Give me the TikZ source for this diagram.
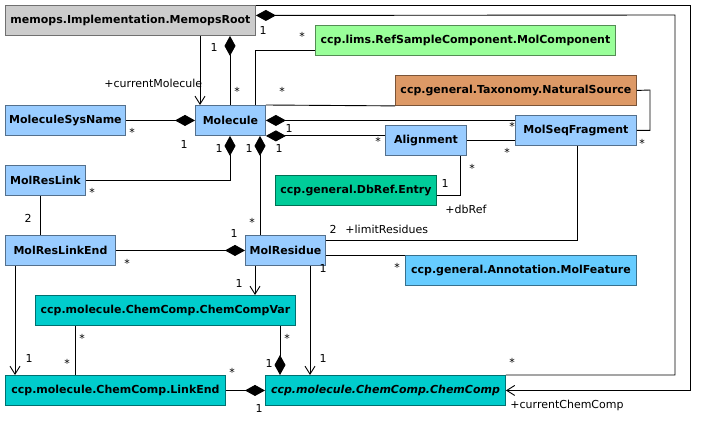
\documentclass[tikz,border=0pt]{standalone}
\usepackage{fontspec}
\setmainfont{DejaVu Sans}
\usetikzlibrary{arrows.meta}

\definecolor{rootgray}{HTML}{CCCCCC}
\definecolor{limsgreen}{HTML}{99FF99}
\definecolor{taxorange}{HTML}{DD9966}
\definecolor{molblue}{HTML}{99CCFF}
\definecolor{refgreen}{HTML}{00CC99}
\definecolor{annoblue}{HTML}{66CCFF}
\definecolor{chemcyan}{HTML}{00CCCC}

\tikzset{
  cls/.style={draw=#1!55!black, fill=#1, anchor=north west, minimum height=30pt,
    inner sep=0pt, font=\bfseries\fontsize{11}{13}\selectfont},
  comp/.style={{Diamond[length=20pt,width=11pt]}-},
  nav/.style={-{Straight Barb[length=8pt,width=10pt]}},
  mult/.style={inner sep=0pt, anchor=base, font=\fontsize{11}{13}\selectfont},
  role/.style={inner sep=0pt, anchor=base west, font=\fontsize{11}{13}\selectfont},
}

\begin{document}
\begin{tikzpicture}[x=1pt, y=-1pt, line width=0.9pt]
\useasboundingbox (0,0) rectangle (701,425);

% classes
\node[cls=rootgray, minimum width=250pt] (root) at (5,5) {memops.Implementation.MemopsRoot};
\node[cls=limsgreen, minimum width=300pt] (molcomp) at (315,25) {ccp.lims.RefSampleComponent.MolComponent};
\node[cls=taxorange, minimum width=241pt] (natsrc) at (395,75) {ccp.general.Taxonomy.NaturalSource};
\node[cls=molblue, minimum width=120pt] (sysname) at (5,105) {MoleculeSysName};
\node[cls=molblue, minimum width=70pt] (molecule) at (195,105) {Molecule};
\node[cls=molblue, minimum width=121pt] (molseqfrag) at (515,115) {MolSeqFragment};
\node[cls=molblue, minimum width=81pt] (alignment) at (385,125) {Alignment};
\node[cls=molblue, minimum width=80pt] (molreslink) at (5,165) {MolResLink};
\node[cls=refgreen, minimum width=161pt] (entry) at (275,175) {ccp.general.DbRef.Entry};
\node[cls=molblue, minimum width=110pt] (molreslinkend) at (5,235) {MolResLinkEnd};
\node[cls=molblue, minimum width=80pt] (molresidue) at (245,235) {MolResidue};
\node[cls=annoblue, minimum width=231pt] (molfeature) at (405,255) {ccp.general.Annotation.MolFeature};
\node[cls=chemcyan, minimum width=260pt] (chemcompvar) at (35,295) {ccp.molecule.ChemComp.ChemCompVar};
\node[cls=chemcyan, minimum width=220pt] (linkend) at (5,375) {ccp.molecule.ChemComp.LinkEnd};
\node[cls=chemcyan, minimum width=240pt] (chemcomp) at (265,375) {\itshape ccp.molecule.ChemComp.ChemComp};

% associations
\draw[comp] ([yshift=5pt]root.east) -- (675,15) |- (chemcomp.north east);
\draw[nav] (root.north east) -- (690,5) |- (chemcomp.east);
\draw[nav] (root.south -| 200,0) -- (molecule.north -| 200,0);
\draw[comp] (root.south -| 230,0) -- (molecule.north -| 230,0);
\draw (molcomp.west |- 0,50) -| (molecule.north -| 255,0);
\draw (molecule.north east) -- (natsrc.south west);
\draw (natsrc.east) -- (650,90) |- (molseqfrag.east);
\draw[comp] (molecule.east) -- (molseqfrag.west |- molecule.east);
\draw[comp] (molecule.south east) -- (alignment.west |- molecule.south east);
\draw (alignment.east) -- (molseqfrag.west |- alignment.east);
\draw (alignment.south -| 460,0) |- (entry.east |- 0,195);
\draw[comp] (molecule.south -| 230,0) |- (molreslink.east);
\draw[comp] (molecule.south -| 260,0) -- (molresidue.north -| 260,0);
\draw[comp] (molecule.west) -- (sysname.east);
\draw (molreslink.south -| 40,0) -- (molreslinkend.north -| 40,0);
\draw[comp] (molresidue.west) -- (molreslinkend.east);
\draw (molresidue.east |- 0,240) -| (molseqfrag.south -| 577,0);
\draw (molresidue.east |- 0,255) -- (molfeature.north west);
\draw[nav] (molresidue.south -| 255,0) -- (chemcompvar.north -| 255,0);
\draw[nav] (molresidue.south -| 310,0) -- (chemcomp.north -| 310,0);
\draw[comp] (chemcomp.north -| 280,0) -- (chemcompvar.south -| 280,0);
\draw (chemcompvar.south -| 75,0) -- (linkend.north -| 75,0);
\draw[nav] (molreslinkend.south -| 15,0) -- (linkend.north -| 15,0);
\draw[comp] (chemcomp.west) -- (linkend.east);

% multiplicities
\foreach \x/\y/\t [count=\i] in {263/35/1, 214/52/1, 184/148/1, 289/132/1,
  219/152/1, 249/152/1, 279/152/1, 445/187/1, 28/222/2, 234/237/1,
  333/233/2, 323/272/1, 239/287/1, 29/362/1, 269/367/1, 323/362/1, 259/412/1,
  302/41/*, 237/96/*, 282/96/*, 132/136/*, 378/146/*, 512/131/*, 507/157/*,
  642/147/*, 472/172/*, 92/196/*, 252/226/*, 127/267/*, 397/271/*,
  82/342/*, 287/342/*, 67/367/*, 232/376/*, 512/366/*}
  \node[mult] (mult\i) at (\x,\y) {\t};

% role names
\node[role] (curmol) at (104,88) {+currentMolecule};
\node[role] (dbref) at (445,213) {+dbRef};
\node[role] (limres) at (345,233) {+limitResidues};
\node[role] (curcc) at (510,408) {+currentChemComp};
\end{tikzpicture}
\end{document}
